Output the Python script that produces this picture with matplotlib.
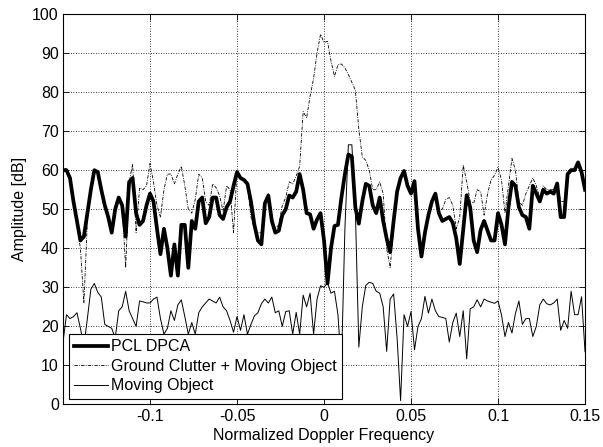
import numpy as np
import matplotlib
matplotlib.use('Agg')
import matplotlib.pyplot as plt

# normalized doppler frequency grid
freq = -0.15 + 0.002 * np.arange(151)

pcl_dpca = [
    60, 60, 58, 52, 47, 42, 43, 49, 55, 60,
    59.5, 55, 51, 48, 44, 50, 53, 51, 43, 57,
    58, 49, 46, 47, 51, 54, 52, 45, 38.5, 45,
    40, 33, 41, 33, 46, 46, 35, 47, 45, 52,
    53, 46.4, 48, 53, 53, 48.5, 47.5, 50.5, 52, 56,
    59.5, 58, 57.5, 56.5, 52, 46, 42, 41, 51.5, 53.5,
    47, 44, 44.5, 48.5, 50, 53.5, 53, 54.5, 59, 55,
    49, 48.7, 45, 47.4, 49, 42, 31, 40, 45.7, 46,
    53, 59, 64, 63.5, 50.5, 46.3, 52, 56.5, 56, 51,
    49, 53, 47, 42.5, 39, 47, 54.5, 58, 59.8, 56,
    54, 57.2, 45, 37.9, 44, 48.5, 52, 54, 49, 47,
    47.5, 48, 46.5, 42.5, 36, 44.7, 53.6, 50.5, 42, 39,
    44.7, 47, 44.5, 42, 42, 49, 46, 41, 50.5, 57,
    56, 50.5, 48.5, 48, 45, 56, 54, 52, 55, 54,
    54.5, 54, 56.6, 48, 48, 59, 60, 60, 62, 59.5,
    55,
]

clutter_moving = [
    60, 60.5, 58, 52, 46, 40, 26, 47, 55, 60,
    59.5, 55, 51, 47, 45, 51, 53, 51, 35, 57,
    61.5, 44, 55.5, 55, 56, 61.7, 57, 51, 48, 55,
    59, 59, 56.5, 59, 61, 56, 50, 49, 52.5, 59,
    58, 52, 51, 56.5, 55.5, 53.5, 49.5, 56, 55, 44,
    60, 58, 57.5, 56, 48, 45, 44, 44, 52, 54,
    48, 45, 46, 51, 53, 57, 56.5, 58.5, 61, 75,
    73.4, 79, 83.5, 90, 94.8, 92.7, 93, 88, 84, 87,
    87.2, 86.2, 84.5, 82.5, 80.5, 70.5, 63.4, 62.5, 60, 55,
    55, 57, 54, 40, 35, 45, 55, 58.5, 60, 56,
    54, 57.2, 46, 38, 44, 49, 52, 54, 50, 50,
    52.5, 53, 51, 45, 48, 61.3, 57, 52, 51.5, 55,
    54.5, 48.5, 54, 57.5, 58.7, 60.8, 57.5, 49, 56, 63,
    60, 52, 51, 54, 56, 58, 56, 53, 56, 55,
    55, 55, 57, 52, 52, 59.5, 60.5, 60.5, 62, 60,
    55,
]

moving_object = [
    16, 23, 22, 22.5, 23.5, 19.5, 15, 22, 29.5, 31,
    28.7, 27.5, 20.5, 20, 19.5, 17, 24, 25, 29, 24,
    22, 20, 26.5, 26.3, 26, 26, 27, 27.5, 22, 18,
    19.5, 24, 21.5, 25.5, 26.8, 22.5, 18, 21, 18, 23.5,
    25, 26, 27, 26.5, 26, 27.5, 25, 24, 21.5, 18.5,
    22.5, 19, 23, 18, 20.5, 22.7, 23.5, 25.8, 27, 26,
    27.5, 23.5, 24, 20, 23.8, 24, 18, 23.6, 18, 28,
    25, 28.5, 18, 27, 30.4, 30, 31.2, 28.5, 29, 23,
    10, 45, 66.5, 66.5, 50, 14.7, 25, 30.5, 31.3, 31,
    29, 28.5, 25, 13.6, 27, 28.3, 17, 1, 23, 20,
    23.8, 14, 20, 22, 27.7, 23.4, 27, 24, 22.5, 22.3,
    22, 16, 21, 23.4, 17.4, 24, 11.7, 24.5, 25, 26.8,
    25, 27, 26.5, 26.2, 25.9, 26.5, 22.9, 17.4, 21, 18.3,
    23.3, 26.5, 20.5, 22, 22, 17.4, 20, 25.5, 27, 25.8,
    25.5, 26, 27, 19, 21.5, 19.5, 29, 23, 23, 27.6,
    13.5,
]

plt.rcParams['font.family'] = ['Liberation Sans', 'DejaVu Sans']
plt.rcParams['font.size'] = 11.5

fig = plt.figure(figsize=(6.03, 4.47), dpi=100)
ax = fig.add_axes([0.1045, 0.0951, 0.8657, 0.8736])

ax.plot(freq, pcl_dpca, color='black', lw=2.7, label='PCL DPCA')
ax.plot(freq, clutter_moving, color='black', lw=0.6,
        linestyle=(0, (4, 1.5, 1, 1.5)), label='Ground Clutter + Moving Object')
ax.plot(freq, moving_object, color='black', lw=0.7, label='Moving Object')

ax.set_xlim(-0.15, 0.15)
ax.set_ylim(0, 100)
ax.set_xticks([-0.1, -0.05, 0, 0.05, 0.1, 0.15])
ax.set_xticklabels(['-0.1', '-0.05', '0', '0.05', '0.1', '0.15'])
ax.set_yticks(np.arange(0, 101, 10))
ax.tick_params(direction='in', length=4, width=0.6, top=True, right=True, pad=3)
ax.grid(True, color='black', linestyle=(0, (1, 2)), lw=0.6)
for s in ax.spines.values():
    s.set_linewidth(0.8)

ax.set_xlabel('Normalized Doppler Frequency', labelpad=3)
ax.set_ylabel('Amplitude [dB]', labelpad=4)

leg = ax.legend(loc='lower left', fancybox=False, framealpha=1,
                edgecolor='black', borderpad=0.35, labelspacing=0.28,
                handlelength=2.1, handletextpad=0.2, borderaxespad=0.35)
leg.get_frame().set_linewidth(0.8)

plt.savefig('out.png', dpi=100)
